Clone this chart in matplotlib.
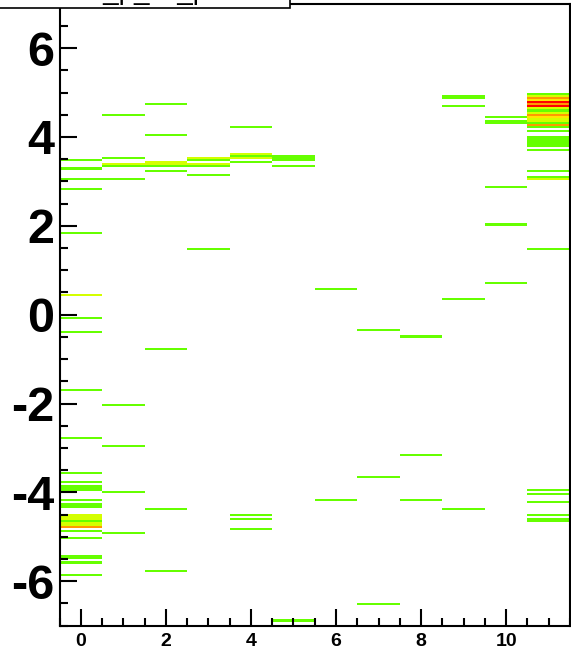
import numpy as np
import matplotlib
matplotlib.use("Agg")
import matplotlib.pyplot as plt
from matplotlib.colors import ListedColormap, BoundaryNorm
from matplotlib.patches import Rectangle
from matplotlib.ticker import MultipleLocator

plt.rcParams["axes.unicode_minus"] = False

# histogram binning
x_lo, x_hi, n_xbins = -0.5, 11.5, 12
y_lo, y_hi, n_ybins = -7.0, 7.0, 300

# filled cells, one list per x bin: y of the cell and its content
col0_y = [3.49, 3.28, 3.05, 2.82, 1.82, 0.46, -0.05, -0.41, -1.72, -2.80, -3.57,
          -3.75, -3.83, -3.90, -3.94, -4.19, -4.27, -4.30, -4.52, -4.56, -4.60,
          -4.64, -4.68, -4.72, -4.76, -4.80, -4.86, -5.02, -5.43, -5.47, -5.56, -5.87]
col0_n = [1, 1, 1, 1, 1, 2, 1, 1, 1, 1, 1,
          1, 1, 1, 1, 1, 1, 1, 2, 2, 2,
          1, 2, 1, 2, 4, 1, 1, 1, 1, 1, 1]
col1_y = [4.51, 3.51, 3.38, 3.33, 3.06, -2.02, -2.97, -3.98, -4.93]
col1_n = [1, 1, 2, 1, 1, 1, 1, 1, 1]
col2_y = [4.73, 4.06, 3.44, 3.40, 3.32, 3.26, 3.22, -0.76, -4.37, -5.74]
col2_n = [1, 1, 2, 2, 1, 1, 1, 1, 1, 1]
col3_y = [3.51, 3.46, 3.40, 3.36, 3.16, 1.45]
col3_n = [2, 1, 2, 1, 1, 1]
col4_y = [4.22, 3.60, 3.55, 3.50, 3.44, -4.52, -4.61, -4.81]
col4_n = [1, 2, 1, 2, 1, 1, 1, 1]
col5_y = [3.59, 3.50, 3.47, 3.33, -6.88]
col5_n = [1, 1, 1, 1, 1]
col6_y = [0.57, -4.16]
col6_n = [1, 1]
col7_y = [-0.36, -3.68, -6.50]
col7_n = [1, 1, 1]
col8_y = [-0.51, -3.17, -4.16]
col8_n = [1, 1, 1]
col9_y = [4.92, 4.89, 4.67, 0.35, -4.36]
col9_n = [1, 1, 1, 1, 1]
col10_y = [4.46, 4.38, 4.32, 2.89, 2.05, 0.71]
col10_n = [1, 1, 1, 1, 1, 1]
col11_y = [4.95, 4.91, 4.87, 4.83, 4.79, 4.75, 4.71, 4.67, 4.63, 4.59, 4.55,
           4.51, 4.47, 4.43, 4.39, 4.35, 4.31, 4.27,
           4.22, 4.13, 4.01, 3.97, 3.93, 3.89, 3.85, 3.81, 3.71, 3.26, 3.10, 3.05,
           1.47, -3.93, -4.04, -4.20, -4.48, -4.52, -4.61, -4.65]
col11_n = [1, 2, 4, 3, 5, 4, 5, 3, 2, 1, 2,
           4, 3, 2, 1, 2, 1, 4,
           1, 1, 1, 1, 1, 1, 1, 1, 1, 1, 1, 2,
           1, 1, 1, 1, 1, 1, 1, 1]

cols_y = [col0_y, col1_y, col2_y, col3_y, col4_y, col5_y,
          col6_y, col7_y, col8_y, col9_y, col10_y, col11_y]
cols_n = [col0_n, col1_n, col2_n, col3_n, col4_n, col5_n,
          col6_n, col7_n, col8_n, col9_n, col10_n, col11_n]

xedges = np.linspace(x_lo, x_hi, n_xbins + 1)
yedges = np.linspace(y_lo, y_hi, n_ybins + 1)
dy = (y_hi - y_lo) / n_ybins
H = np.zeros((n_ybins, n_xbins))
for k in range(n_xbins):
    for y, n in zip(cols_y[k], cols_n[k]):
        j = int((y - y_lo) / dy)
        H[j, k] = max(H[j, k], n)
H = np.ma.masked_equal(H, 0)

palette = ListedColormap(["#66ff00", "#d4ff00", "#ffe600", "#ff9900", "#ff0000"])
norm = BoundaryNorm([0.5, 1.5, 2.5, 3.5, 4.5, 5.5], palette.N)

fig = plt.figure(figsize=(5.71, 6.62), dpi=100)
ax = fig.add_axes([59.5 / 571, 36.3 / 662, 510.5 / 571, 622 / 662])
ax.pcolormesh(xedges, yedges, H, cmap=palette, norm=norm,
              antialiased=False, edgecolors="none")

ax.set_xlim(x_lo, x_hi)
ax.set_ylim(y_lo, y_hi)
ax.xaxis.set_major_locator(MultipleLocator(2))
ax.xaxis.set_minor_locator(MultipleLocator(0.5))
ax.yaxis.set_major_locator(MultipleLocator(2))
ax.yaxis.set_minor_locator(MultipleLocator(0.5))
ax.tick_params(which="both", direction="in", width=1.5, top=False, right=False)
ax.tick_params(which="major", length=12)
ax.tick_params(which="minor", length=6)
ax.tick_params(axis="x", labelsize=14, pad=5)
ax.tick_params(axis="y", labelsize=35, pad=4)
for lab in ax.get_xticklabels() + ax.get_yticklabels():
    lab.set_fontfamily("Liberation Sans")
    lab.set_fontweight("bold")
for sp in ax.spines.values():
    sp.set_linewidth(1.5)

# title box, mostly above the canvas
fig.patches.append(Rectangle((-0.01, 1 - 7.5 / 662), 290 / 571 + 0.01, 0.05,
                             transform=fig.transFigure, facecolor="white",
                             edgecolor="black", linewidth=1.2, zorder=5))
fig.text(145 / 571, 1 + 1 / 662, "hist_p_vs_phi", ha="center", va="baseline",
         fontsize=20, fontfamily="Liberation Sans", zorder=6)

fig.savefig("out.png", dpi=100)
